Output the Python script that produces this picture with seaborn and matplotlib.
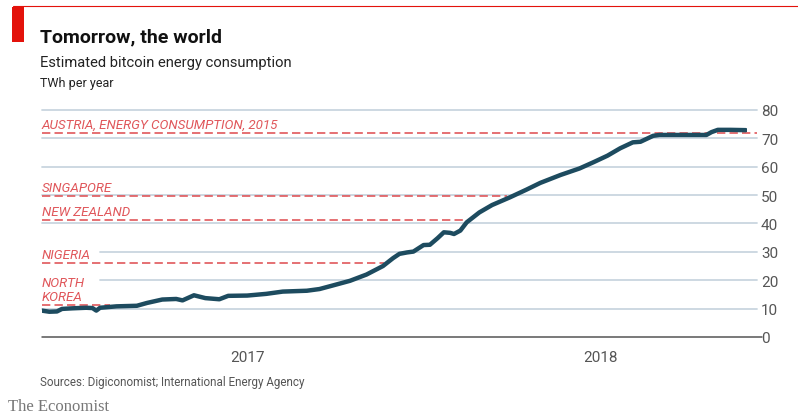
import matplotlib
matplotlib.use("Agg")
import matplotlib.pyplot as plt
import matplotlib.dates as mdates
from matplotlib import font_manager
from matplotlib.patches import Rectangle
from matplotlib.lines import Line2D
import seaborn as sns
import pandas as pd
import numpy as np

# estimated bitcoin energy consumption, TWh per year
dates = ["2017-02-10", "2017-02-16", "2017-02-22", "2017-02-26", "2017-03-06",
         "2017-03-17", "2017-03-22", "2017-03-25", "2017-03-28", "2017-04-10",
         "2017-04-26", "2017-05-04", "2017-05-16", "2017-05-27", "2017-06-01",
         "2017-06-10", "2017-06-19", "2017-06-30", "2017-07-07", "2017-07-22",
         "2017-08-06", "2017-08-19", "2017-09-07", "2017-09-17", "2017-09-27",
         "2017-10-11", "2017-10-24", "2017-11-06", "2017-11-14", "2017-11-19",
         "2017-11-25", "2017-11-30", "2017-12-08", "2017-12-13", "2017-12-19",
         "2017-12-24", "2017-12-29", "2018-01-01", "2018-01-06", "2018-01-11",
         "2018-01-21", "2018-01-31", "2018-02-14", "2018-02-27", "2018-03-10",
         "2018-03-26", "2018-04-10", "2018-04-21", "2018-05-02", "2018-05-12",
         "2018-05-22", "2018-05-28", "2018-06-07", "2018-06-12", "2018-07-19",
         "2018-07-23", "2018-07-28", "2018-08-07", "2018-08-19"]
twh = [9.3, 8.9, 9.0, 9.9, 10.1,
       10.3, 10.2, 9.3, 10.3, 10.8,
       11.0, 12.0, 13.2, 13.4, 12.9,
       14.7, 13.7, 13.3, 14.5, 14.6,
       15.2, 16.0, 16.3, 16.9, 18.1,
       19.8, 22.0, 25.0, 27.8, 29.3,
       29.8, 30.1, 32.4, 32.5, 34.8,
       36.9, 36.7, 36.3, 37.5, 40.4,
       43.9, 46.5, 49.2, 51.9, 54.3,
       57.1, 59.4, 61.6, 63.9, 66.5,
       68.6, 68.8, 70.9, 71.2, 71.2,
       72.2, 73.0, 73.0, 72.9]

# comparison: annual electricity consumption of countries, TWh
ref_names = ["AUSTRIA, ENERGY CONSUMPTION, 2015", "SINGAPORE", "NEW ZEALAND",
             "NIGERIA", "NORTH\nKOREA"]
ref_values = [72.0, 49.6, 41.2, 26.0, 11.4]

y_ticks = [0, 10, 20, 30, 40, 50, 60, 70, 80]
year_labels = ["2017", "2018"]
x_start, x_end = "2017-02-10", "2018-08-20"

installed = {f.name for f in font_manager.fontManager.ttflist}
narrow = "Liberation Sans Narrow" if "Liberation Sans Narrow" in installed else "Roboto"

sns.set_style("white")
plt.rcParams["font.family"] = [narrow, "DejaVu Sans"]

red = "#e3120b"
ref_red = "#e0575b"
grid_col = "#c9d6df"
line_col = "#1d4b5f"
grey = "#555555"

df = pd.DataFrame({"date": pd.to_datetime(dates), "twh": twh})
start, end = pd.Timestamp(x_start), pd.Timestamp(x_end)

fig = plt.figure(figsize=(7.98, 4.14), dpi=100)
ax = fig.add_axes([0.0523, 0.1836, 0.8838, 0.5483])

# horizontal grid, shortened where the lower labels sit
for v in y_ticks[1:]:
    xmin = 0.083 if v in (20, 30) else 0
    ax.axhline(v, xmin=xmin, xmax=1.014, color=grid_col, lw=1.3, clip_on=False, zorder=1)
ax.axhline(0, xmin=0, xmax=1.021, color=grey, lw=1.1, clip_on=False, zorder=2)

# dashed reference lines stop where the curve reaches them
vals = df["twh"].to_numpy()
nums = mdates.date2num(df["date"])
for name, v in zip(ref_names, ref_values):
    if vals.max() < v + 1.5:
        x_stop = mdates.date2num(end) + 8
    else:
        i = int(np.argmax(vals >= v - 0.8))
        x_stop = np.interp(v - 0.8, [vals[i - 1], vals[i]], [nums[i - 1], nums[i]])
    ax.plot([mdates.date2num(start), x_stop], [v, v], color=ref_red, lw=1.2,
            dashes=(5, 2.5), zorder=3, clip_on=False)
    ax.annotate(name, (mdates.date2num(start), v), xytext=(0, 1.5),
                textcoords="offset points", ha="left", va="bottom",
                color=ref_red, fontsize=9.6, style="italic", linespacing=1.05,
                zorder=4)

sns.lineplot(data=df, x="date", y="twh", color=line_col, lw=3.2, ax=ax, zorder=5)

ax.set_xlim(start, end)
ax.set_ylim(0, 80)
ax.set_xlabel("")
ax.set_ylabel("")
for s in ax.spines.values():
    s.set_visible(False)

ax.yaxis.tick_right()
ax.set_yticks(y_ticks)
ax.tick_params(axis="y", length=0, pad=10, labelsize=11, labelcolor=grey)

month_ticks = [mdates.date2num(start)] + list(mdates.date2num(
    pd.date_range("2017-03-01", "2018-08-01", freq="MS")))
ax.xaxis.set_major_locator(mdates.MonthLocator(bymonth=1))
ax.xaxis.set_minor_locator(matplotlib.ticker.FixedLocator(month_ticks))
ax.xaxis.set_major_formatter(matplotlib.ticker.NullFormatter())
ax.tick_params(axis="x", which="major", length=6, width=1, color=grey, direction="out")
ax.tick_params(axis="x", which="minor", length=3.5, width=1, color=grey, direction="out")

year_bounds = [start, pd.Timestamp("2018-01-01"), end]
for lab, a, b in zip(year_labels, year_bounds[:-1], year_bounds[1:]):
    mid = a + (b - a) / 2
    ax.text(mid, -0.088, lab, transform=ax.get_xaxis_transform(), ha="center",
            va="center", fontsize=11, color=grey)

# header decoration and texts
fig.add_artist(Line2D([13 / 798, 1], [1 - 7 / 414, 1 - 7 / 414], color=red, lw=0.8))
fig.add_artist(Rectangle((12 / 798, 1 - 43 / 414), 12 / 798, 35 / 414, color=red, lw=0))
fig.text(40 / 798, 1 - 37 / 414, "Tomorrow, the world", fontsize=14, weight="bold",
         va="center", color="#111111")
fig.text(40 / 798, 1 - 63 / 414, "Estimated bitcoin energy consumption", fontsize=10.6,
         va="center", color="#222222")
fig.text(40 / 798, 1 - 84 / 414, "TWh per year", fontsize=9, va="center", color="#222222")
fig.text(40 / 798, 1 - 383 / 414, "Sources: Digiconomist; International Energy Agency",
         fontsize=8.4, va="center", color=grey)
fig.text(8 / 798, 1 - 407 / 414, "The Economist", fontsize=12, va="center",
         color="#777777", family=["Liberation Serif", "DejaVu Serif"])

fig.savefig("out.png", dpi=100)
